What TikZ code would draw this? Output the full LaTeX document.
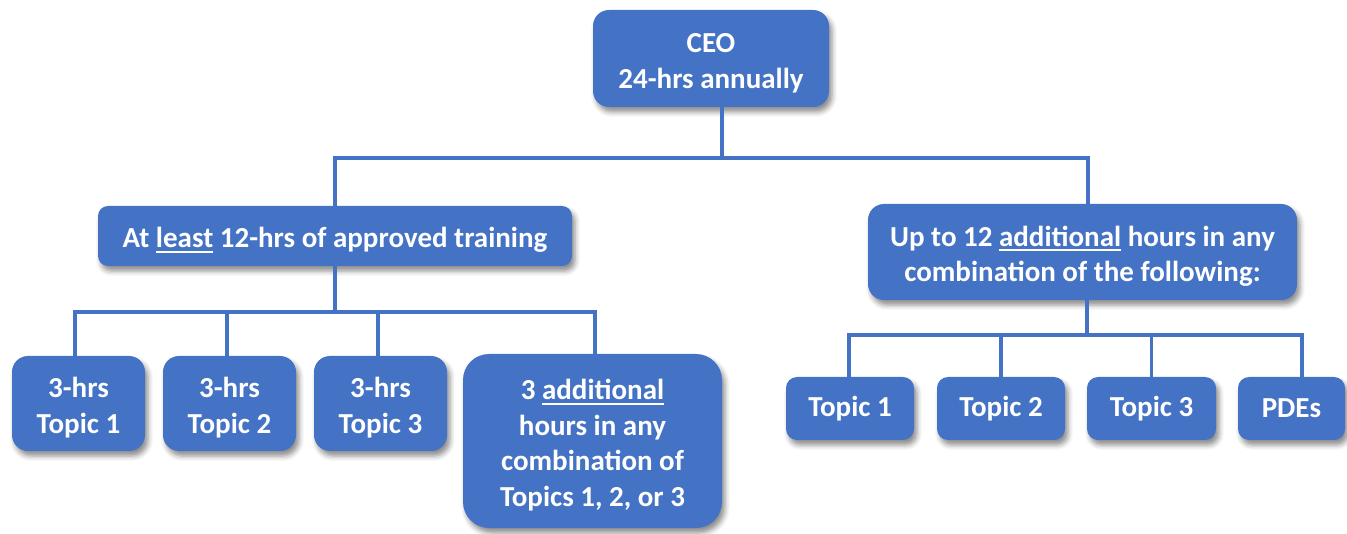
\documentclass[tikz,border=0pt]{standalone}
\usepackage{fontspec}
\setmainfont{Carlito}
\usetikzlibrary{shadows.blur}
\definecolor{boxblue}{HTML}{4472C4}
% thick underline set a little below the baseline
\newcommand\uln[1]{\setbox0\hbox{#1}\rlap{\rule[-5pt]{\wd0}{1.8pt}}\box0\relax}
% tall strut that lowers the first line of a box
\newcommand\topstrut{\rule{0pt}{29pt}}
\tikzset{
  box/.style={fill=boxblue, rounded corners=#1, text=white, align=center,
    font=\fontsize{29}{35.5}\selectfont\bfseries, inner sep=0pt,
    blur shadow={shadow xshift=3pt, shadow yshift=-5pt, shadow blur radius=5pt, shadow opacity=45}},
  box/.default=14pt,
  link/.style={draw=boxblue, line width=3.5pt}
}
\begin{document}
\begin{tikzpicture}[x=1pt,y=-1pt]
\useasboundingbox (0,0) rectangle (1347,534);
% top level
\node[box=16pt, minimum width=236pt, minimum height=97pt] (ceo) at (711,58.5) {\topstrut CEO\\24-hrs annually};
% second level
\node[box=10pt, minimum width=474pt, minimum height=60pt] (lmid) at (335,236) {\topstrut At \uln{least} 12-hrs of approved training};
\node[box=16pt, minimum width=429pt, minimum height=96pt] (rmid) at (1082.5,252) {\topstrut Up to 12 \uln{additional} hours in any\\combination of the following:};
% left branch
\node[box=16pt, minimum width=133pt, minimum height=95pt] (t1) at (78.5,403.5) {\topstrut 3-hrs\\Topic 1};
\node[box=16pt, minimum width=133pt, minimum height=95pt] (t2) at (229.5,403.5) {\topstrut 3-hrs\\Topic 2};
\node[box=16pt, minimum width=133pt, minimum height=95pt] (t3) at (380.5,403.5) {\topstrut 3-hrs\\Topic 3};
\node[box=26pt, minimum width=259pt, minimum height=174pt] (t4) at (592.5,441) {\topstrut 3 \uln{additional}\\hours in any\\combination of\\Topics 1, 2, or 3};
% right branch
\node[box=11pt, minimum width=128pt, minimum height=63pt] (r1) at (850,408.5) {Topic 1};
\node[box=11pt, minimum width=128pt, minimum height=63pt] (r2) at (1001,408.5) {Topic 2};
\node[box=11pt, minimum width=129pt, minimum height=63pt] (r3) at (1151.5,408.5) {Topic 3};
\node[box=11pt, minimum width=107pt, minimum height=63pt] (r4) at (1291.5,408.5) {PDEs};
% bus lines
\coordinate (bus0) at (722,158);
\coordinate (bus1) at (335,312);
\coordinate (bus2) at (1087,335);
\draw[link] ([xshift=11pt]ceo.south) -- (bus0);
\draw[link] (lmid.north) |- (bus0) -| ([xshift=5.5pt]rmid.north);
\draw[link] (lmid.south) -- (bus1);
\draw[link] ([xshift=-3.5pt]t1.north) |- (bus1) -| ([xshift=2.5pt]t4.north);
\draw[link] ([xshift=-2.5pt]t2.north) -- ([xshift=-2.5pt]t2.north |- bus1);
\draw[link] ([xshift=-2.5pt]t3.north) -- ([xshift=-2.5pt]t3.north |- bus1);
\draw[link] ([xshift=4.5pt]rmid.south) -- (bus2);
\draw[link] ([xshift=-1pt]r1.north) |- (bus2) -| ([xshift=10.5pt]r4.north);
\draw[link] (r2.north) -- (r2.north |- bus2);
\draw[link] (r3.north) -- (r3.north |- bus2);
\end{tikzpicture}
\end{document}
